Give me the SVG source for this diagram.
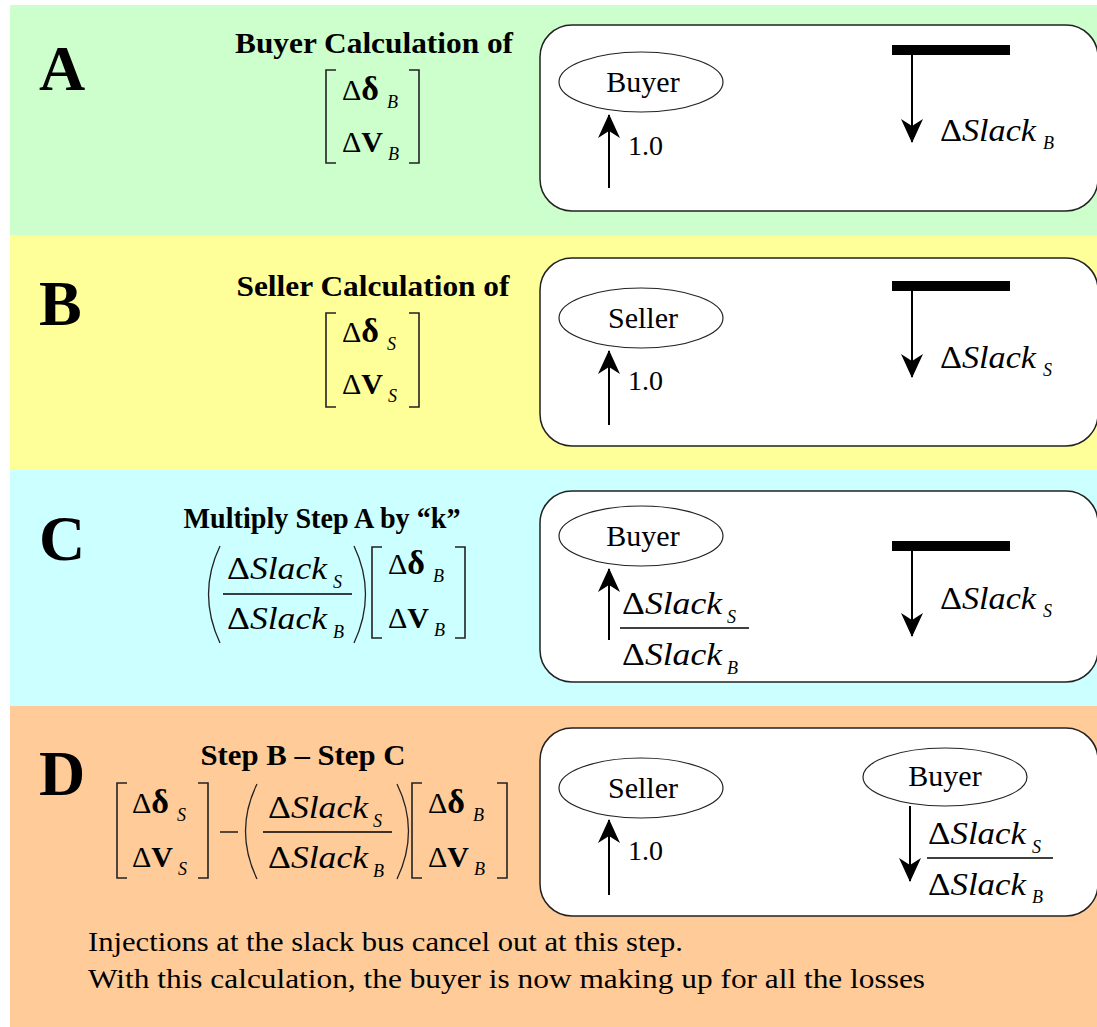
<svg xmlns="http://www.w3.org/2000/svg" width="1097" height="1027" viewBox="0 0 1097 1027">
<defs>
<style>
.bg{stroke:none}
.box{fill:#fff;stroke:#222;stroke-width:1.5}
.ell{fill:#fff;stroke:#222;stroke-width:1.2}
.big{font-family:"Liberation Serif","Times New Roman",serif;font-weight:bold;font-size:64px;fill:#000}
.ttl{font-family:"Liberation Serif","Times New Roman",serif;font-weight:bold;font-size:29px;fill:#000;text-anchor:middle}
.lbl{font-family:"Liberation Serif","Times New Roman",serif;font-size:30px;fill:#000;text-anchor:middle}
.num{font-family:"Liberation Serif","Times New Roman",serif;font-size:28px;fill:#000}
.m{font-family:"Liberation Serif","Times New Roman",serif;font-size:30px;fill:#000}
.mi{font-family:"Liberation Serif","Times New Roman",serif;font-size:31px;font-style:italic;fill:#000}
.sub{font-family:"Liberation Serif","Times New Roman",serif;font-size:18px;font-style:italic;font-weight:normal;fill:#000}
.b{font-weight:bold}
.dl{font-size:34px}
.n{font-style:normal}
.br{fill:none;stroke:#222;stroke-width:1.6}
.par{fill:none;stroke:#222;stroke-width:1.3}
.fl{stroke:#000;stroke-width:1.3}
.arr{stroke:#000;stroke-width:2;fill:none;marker-end:url(#ah)}
.bar{fill:#000}
.body{font-family:"Liberation Serif","Times New Roman",serif;font-size:27px;fill:#000}
</style>
<marker id="ah" markerUnits="userSpaceOnUse" viewBox="0 0 24 22" markerWidth="24" markerHeight="22" refX="23" refY="11" orient="auto">
<path d="M0,0 L24,11 L0,22 L7,11 Z" fill="#000"/>
</marker>
</defs>

<!-- backgrounds -->
<rect class="bg" x="10" y="5" width="1087" height="230" fill="#CCFFCC"/>
<rect class="bg" x="10" y="235" width="1087" height="235" fill="#FFFF99"/>
<rect class="bg" x="10" y="470" width="1087" height="236" fill="#CCFFFF"/>
<rect class="bg" x="10" y="706" width="1087" height="321" fill="#FFCC99"/>

<!-- Panel A -->
<g id="panelA">
<text class="big" x="39" y="90">A</text>
<text class="ttl" x="374" y="53" textLength="278" lengthAdjust="spacingAndGlyphs">Buyer Calculation of</text>
<path class="br" d="M336,70 H326 V163 H336"/>
<path class="br" d="M409,70 H419 V163 H409"/>
<text class="m" x="342" y="100">Δ<tspan class="b dl">δ</tspan><tspan class="sub" dx="8" dy="8">B</tspan></text>
<text class="m" x="342" y="152">Δ<tspan class="b">V</tspan><tspan class="sub" dx="5" dy="8">B</tspan></text>
</g>
<g id="boxA">
<rect class="box" x="540" y="25" width="558" height="186" rx="32"/>
<g id="buyerA"><ellipse class="ell" cx="641" cy="82" rx="82" ry="30"/><text class="lbl" x="643" y="92">Buyer</text></g>
<text class="num" x="628" y="155">1.0</text>
<rect class="bar" x="892" y="45" width="118" height="10"/>
<text class="mi" x="940" y="141" textLength="96" lengthAdjust="spacingAndGlyphs"><tspan class="n">Δ</tspan>Slack</text>
<text class="sub" x="1043" y="149">B</text>
</g>

<!-- Panel B -->
<g id="panelB">
<text class="big" x="39" y="325">B</text>
<text class="ttl" x="373" y="296" textLength="273" lengthAdjust="spacingAndGlyphs">Seller Calculation of</text>
<path class="br" d="M336,313 H326 V407 H336"/>
<path class="br" d="M409,313 H419 V407 H409"/>
<text class="m" x="342" y="342">Δ<tspan class="b dl">δ</tspan><tspan class="sub" dx="8" dy="8">S</tspan></text>
<text class="m" x="342" y="394">Δ<tspan class="b">V</tspan><tspan class="sub" dx="5" dy="8">S</tspan></text>
</g>
<g id="boxB">
<rect class="box" x="540" y="258" width="558" height="188" rx="32"/>
<g id="sellerB"><ellipse class="ell" cx="641" cy="318" rx="82" ry="30"/><text class="lbl" x="643" y="328">Seller</text></g>
<text class="num" x="628" y="390">1.0</text>
<rect class="bar" x="892" y="281" width="118" height="10"/>
<text class="mi" x="940" y="368" textLength="96" lengthAdjust="spacingAndGlyphs"><tspan class="n">Δ</tspan>Slack</text>
<text class="sub" x="1043" y="376">S</text>
</g>

<!-- Panel C -->
<g id="panelC">
<text class="big" x="39" y="560">C</text>
<text class="ttl" x="322" y="528" textLength="277" lengthAdjust="spacingAndGlyphs">Multiply Step A by “k”</text>
<path class="par" d="M220,546 Q197,594 220,643"/>
<text class="mi" x="227" y="579" textLength="100" lengthAdjust="spacingAndGlyphs"><tspan class="n">Δ</tspan>Slack</text>
<text class="sub" x="333" y="588">S</text>
<line class="fl" x1="223" y1="594" x2="352" y2="594"/>
<text class="mi" x="227" y="629" textLength="100" lengthAdjust="spacingAndGlyphs"><tspan class="n">Δ</tspan>Slack</text>
<text class="sub" x="333" y="638">B</text>
<path class="par" d="M354,546 Q377,594 354,643"/>
<path class="br" d="M382,547 H372 V638 H382"/>
<path class="br" d="M455,547 H465 V638 H455"/>
<text class="m" x="388" y="574">Δ<tspan class="b dl">δ</tspan><tspan class="sub" dx="8" dy="8">B</tspan></text>
<text class="m" x="388" y="628">Δ<tspan class="b">V</tspan><tspan class="sub" dx="5" dy="8">B</tspan></text>
</g>
<g id="boxC">
<rect class="box" x="540" y="491" width="558" height="191" rx="32"/>
<g id="buyerC"><ellipse class="ell" cx="641" cy="536" rx="82" ry="30"/><text class="lbl" x="643" y="546">Buyer</text></g>
<text class="mi" x="622" y="614" textLength="100" lengthAdjust="spacingAndGlyphs"><tspan class="n">Δ</tspan>Slack</text>
<text class="sub" x="727" y="623">S</text>
<line class="fl" x1="620" y1="628" x2="749" y2="628"/>
<text class="mi" x="622" y="665" textLength="100" lengthAdjust="spacingAndGlyphs"><tspan class="n">Δ</tspan>Slack</text>
<text class="sub" x="727" y="674">B</text>
<rect class="bar" x="892" y="541" width="118" height="10"/>
<text class="mi" x="940" y="609" textLength="96" lengthAdjust="spacingAndGlyphs"><tspan class="n">Δ</tspan>Slack</text>
<text class="sub" x="1043" y="617">S</text>
</g>

<!-- Panel D -->
<g id="panelD">
<text class="big" x="39" y="795">D</text>
<text class="ttl" x="303" y="765" textLength="205" lengthAdjust="spacingAndGlyphs">Step B – Step C</text>
<path class="br" d="M127,783 H117 V878 H127"/>
<path class="br" d="M198,783 H208 V878 H198"/>
<text class="m" x="132" y="813">Δ<tspan class="b dl">δ</tspan><tspan class="sub" dx="8" dy="8">S</tspan></text>
<text class="m" x="132" y="867">Δ<tspan class="b">V</tspan><tspan class="sub" dx="5" dy="8">S</tspan></text>
<line class="fl" x1="220" y1="832" x2="238" y2="832"/>
<path class="par" d="M257,784 Q234,831 257,879"/>
<text class="mi" x="268" y="818" textLength="100" lengthAdjust="spacingAndGlyphs"><tspan class="n">Δ</tspan>Slack</text>
<text class="sub" x="373" y="827">S</text>
<line class="fl" x1="263" y1="832" x2="392" y2="832"/>
<text class="mi" x="268" y="868" textLength="100" lengthAdjust="spacingAndGlyphs"><tspan class="n">Δ</tspan>Slack</text>
<text class="sub" x="373" y="877">B</text>
<path class="par" d="M397,784 Q420,831 397,879"/>
<path class="br" d="M422,783 H412 V878 H422"/>
<path class="br" d="M497,783 H507 V878 H497"/>
<text class="m" x="428" y="813">Δ<tspan class="b dl">δ</tspan><tspan class="sub" dx="8" dy="8">B</tspan></text>
<text class="m" x="428" y="867">Δ<tspan class="b">V</tspan><tspan class="sub" dx="5" dy="8">B</tspan></text>
<text class="body" x="88" y="951" textLength="595" lengthAdjust="spacingAndGlyphs">Injections at the slack bus cancel out at this step.</text>
<text class="body" x="88" y="988" textLength="837" lengthAdjust="spacingAndGlyphs">With this calculation, the buyer is now making up for all the losses</text>
</g>
<g id="boxD">
<rect class="box" x="540" y="728" width="558" height="188" rx="32"/>
<g id="sellerD"><ellipse class="ell" cx="641" cy="788" rx="82" ry="30"/><text class="lbl" x="643" y="798">Seller</text></g>
<text class="num" x="628" y="860">1.0</text>
<g id="buyerD"><ellipse class="ell" cx="945" cy="777" rx="82" ry="29"/><text class="lbl" x="945" y="786">Buyer</text></g>
<text class="mi" x="928" y="844" textLength="98" lengthAdjust="spacingAndGlyphs"><tspan class="n">Δ</tspan>Slack</text>
<text class="sub" x="1032" y="853">S</text>
<line class="fl" x1="927" y1="858" x2="1053" y2="858"/>
<text class="mi" x="928" y="895" textLength="98" lengthAdjust="spacingAndGlyphs"><tspan class="n">Δ</tspan>Slack</text>
<text class="sub" x="1032" y="903">B</text>
</g>

<!-- connectors -->
<g id="connectors">
<line class="arr" x1="609" y1="188" x2="609" y2="115"/>
<line class="arr" x1="912" y1="55" x2="912" y2="142"/>
<line class="arr" x1="609" y1="425" x2="609" y2="351"/>
<line class="arr" x1="912" y1="291" x2="912" y2="377"/>
<line class="arr" x1="609" y1="640" x2="609" y2="569"/>
<line class="arr" x1="912" y1="551" x2="912" y2="636"/>
<line class="arr" x1="609" y1="895" x2="609" y2="820"/>
<line class="arr" x1="910" y1="806" x2="910" y2="881"/>
</g>
</svg>
